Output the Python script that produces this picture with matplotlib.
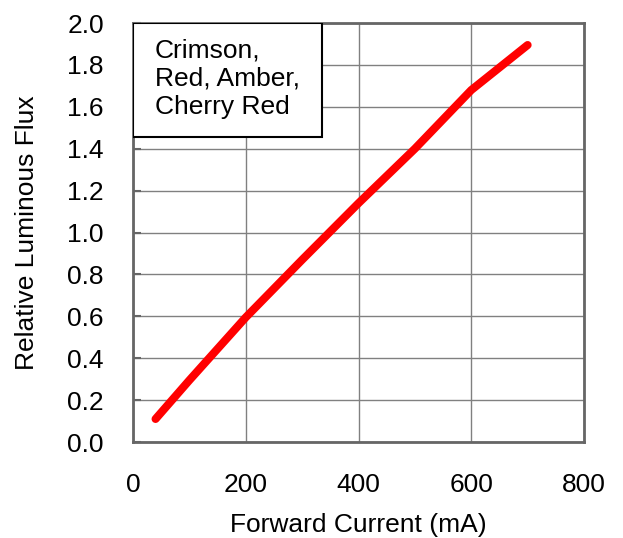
import matplotlib
matplotlib.use("Agg")
import matplotlib.pyplot as plt
from matplotlib.patches import Rectangle

plt.rcParams['font.family'] = ['Liberation Sans', 'DejaVu Sans']

# datos
corriente = [40, 100, 200, 300, 400, 500, 600, 700]
flujo = [0.11, 0.295, 0.595, 0.87, 1.14, 1.40, 1.68, 1.895]

x_ticks = [0, 200, 400, 600, 800]
y_ticks = [0.0, 0.2, 0.4, 0.6, 0.8, 1.0, 1.2, 1.4, 1.6, 1.8, 2.0]
etiqueta = "Crimson,\nRed, Amber,\nCherry Red"

fs = 19

fig = plt.figure(figsize=(6.23, 5.38), dpi=100)
ax = fig.add_axes([0.2135, 0.1784, 0.7239, 0.7788])

ax.plot(corriente, flujo, color='#ff0000', linewidth=5.8, solid_capstyle='round',
        solid_joinstyle='round', zorder=3)

ax.set_xlim(0, 800)
ax.set_ylim(0, 2.0)
ax.set_xticks(x_ticks)
ax.set_yticks(y_ticks)
ax.set_yticklabels(["%.1f" % v for v in y_ticks])
ax.grid(True, color='#808080', linewidth=1.0)
ax.set_axisbelow(True)

for s in ax.spines.values():
    s.set_color('#666666')
    s.set_linewidth(2.0)

ax.tick_params(axis='y', direction='in', length=6, width=1.5, color='#666666',
               pad=21, labelsize=fs)
ax.tick_params(axis='x', length=0, pad=22, labelsize=fs)

ax.set_xlabel("Forward Current (mA)", fontsize=fs, labelpad=12)
ax.set_ylabel("Relative Luminous Flux", fontsize=fs, labelpad=20)

# cuadro con el texto
ax.add_patch(Rectangle((0, 0.728), 0.42, 0.272, transform=ax.transAxes,
                       facecolor='white', edgecolor='black', linewidth=1.5, zorder=4))
ax.text(0.049, 0.962, etiqueta, transform=ax.transAxes, fontsize=fs,
        va='top', ha='left', linespacing=1.2, zorder=5)

fig.savefig("out.png", dpi=100)
